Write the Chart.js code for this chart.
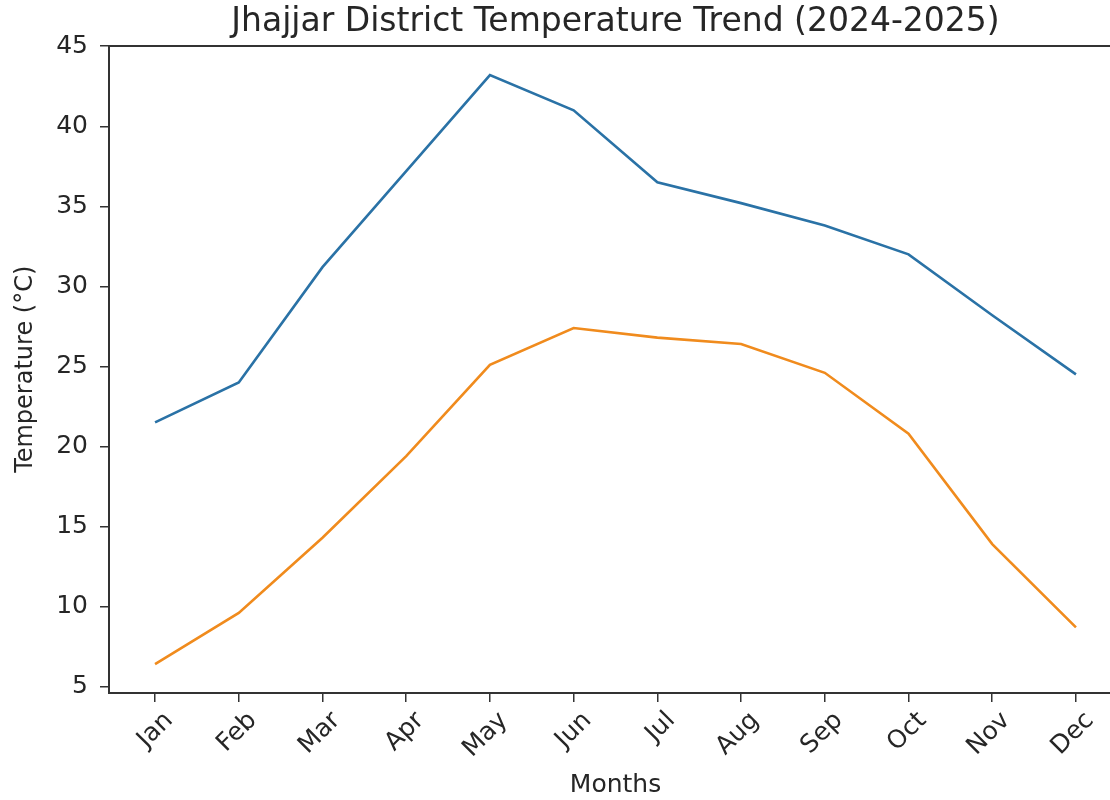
<!DOCTYPE html>
<html>
<head>
<meta charset="utf-8">
<script src="https://cdn.jsdelivr.net/npm/chart.js@4.4.1/dist/chart.umd.min.js"></script>
<style>
  html, body { margin: 0; padding: 0; background: #fff; overflow: hidden; }
  #wrap { position: relative; width: 1122px; height: 800px; }
</style>
</head>
<body>
<div id="wrap"><canvas id="myChart" width="1122" height="800"></canvas></div>
<script>
const months = ['Jan', 'Feb', 'Mar', 'Apr', 'May', 'Jun', 'Jul', 'Aug', 'Sep', 'Oct', 'Nov', 'Dec'];
const maxTemp = [21.5, 24.0, 31.2, 37.2, 43.2, 41.0, 36.5, 35.2, 33.8, 32.0, 28.2, 24.5];
const minTemp = [6.4, 9.6, 14.3, 19.4, 25.1, 27.4, 26.8, 26.4, 24.6, 20.8, 13.9, 8.7];

const font = 'DejaVu Sans';
const ink = '#262626';

const toPoints = (vals) => vals.map((v, i) => ({ x: i, y: v }));

const ctx = document.getElementById('myChart');

new Chart(ctx, {
  type: 'line',
  data: {
    datasets: [{
      label: 'Max',
      data: toPoints(maxTemp),
      borderColor: '#2a72a6',
      borderWidth: 2.6,
      pointRadius: 0,
      tension: 0
    }, {
      label: 'Min',
      data: toPoints(minTemp),
      borderColor: '#f08b1d',
      borderWidth: 2.6,
      pointRadius: 0,
      tension: 0
    }]
  },
  options: {
    responsive: false,
    animation: false,
    layout: { padding: 0 },
    plugins: {
      legend: { display: false },
      tooltip: { enabled: false },
      title: {
        display: true,
        fullSize: false,
        text: 'Jhajjar District Temperature Trend (2024-2025)',
        color: ink,
        font: { family: font, size: 33, weight: 'normal', lineHeight: 1.2 },
        padding: { top: 3, bottom: 3 }
      }
    },
    scales: {
      x: {
        type: 'linear',
        min: -0.55,
        max: 11.55,
        afterFit: (s) => { s.height = 107; },
        border: { display: true, color: '#333', width: 2 },
        grid: { display: true, drawOnChartArea: false, drawTicks: true, tickLength: 9, color: '#333', lineWidth: 1.5 },
        ticks: {
          stepSize: 1,
          includeBounds: false,
          autoSkip: false,
          minRotation: 45,
          maxRotation: 45,
          padding: 4,
          labelOffset: 14,
          color: ink,
          font: { family: font, size: 25 },
          callback: (v) => months[v] ?? ''
        },
        title: {
          display: true,
          text: 'Months',
          color: ink,
          font: { family: font, size: 25, lineHeight: 1.2 },
          padding: { top: 0, bottom: 0 }
        }
      },
      x2: {
        type: 'linear',
        position: 'top',
        min: -0.55,
        max: 11.55,
        afterFit: (s) => { s.height = 0; },
        border: { display: true, color: '#333', width: 2 },
        grid: { display: false },
        ticks: { display: false }
      },
      y: {
        min: 4.6,
        max: 45.04,
        afterFit: (s) => { s.width = 109; },
        border: { display: true, color: '#333', width: 2 },
        grid: { display: true, drawOnChartArea: false, drawTicks: true, tickLength: 9, color: '#333', lineWidth: 1.5 },
        ticks: {
          stepSize: 5,
          includeBounds: false,
          padding: 12,
          color: ink,
          font: { family: font, size: 25 }
        },
        title: {
          display: true,
          text: 'Temperature (°C)',
          color: ink,
          font: { family: font, size: 24, lineHeight: 1.2 },
          padding: { top: 11, bottom: 0 }
        }
      }
    }
  }
});
</script>
</body>
</html>
